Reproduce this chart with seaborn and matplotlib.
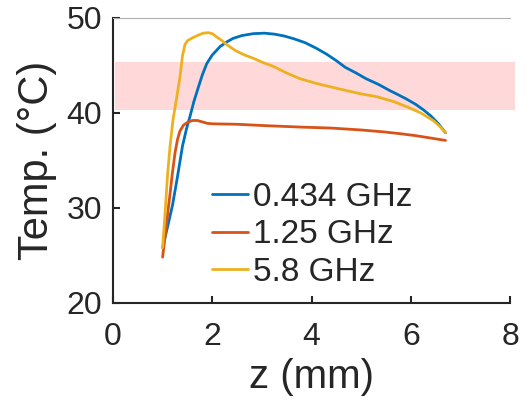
import matplotlib
matplotlib.use("Agg")
import matplotlib.pyplot as plt
import seaborn as sns
import pandas as pd

# values
z_blue = [1.0, 1.1, 1.2, 1.3, 1.4, 1.48, 1.55, 1.63, 1.72, 1.8, 1.89, 2.0, 2.16, 2.3, 2.42, 2.6, 2.83,
          3.05, 3.25, 3.45, 3.65, 3.87, 4.1, 4.3, 4.5, 4.68, 4.9, 5.1, 5.35, 5.56, 5.75, 5.9, 6.1,
          6.26, 6.4, 6.55, 6.7]
t_blue = [25.8, 28.0, 30.3, 33.3, 36.5, 38.3, 39.6, 41.2, 42.7, 44.0, 45.2, 46.1, 47.0, 47.5, 47.85,
          48.15, 48.35, 48.4, 48.3, 48.1, 47.8, 47.4, 46.8, 46.2, 45.5, 44.8, 44.2, 43.6, 43.0, 42.4,
          41.9, 41.5, 40.9, 40.3, 39.7, 38.9, 37.9]

z_red = [1.0, 1.05, 1.1, 1.15, 1.2, 1.25, 1.3, 1.35, 1.42, 1.5, 1.6, 1.7, 1.8, 1.9, 2.0, 2.5, 3.1,
         3.8, 4.4, 5.0, 5.45, 5.8, 6.1, 6.4, 6.7]
t_red = [24.8, 27.0, 29.3, 31.5, 33.8, 35.8, 37.2, 38.1, 38.7, 39.0, 39.2, 39.2, 39.05, 38.9, 38.85,
         38.8, 38.65, 38.5, 38.4, 38.2, 38.0, 37.8, 37.6, 37.35, 37.1]

z_yel = [1.0, 1.05, 1.1, 1.15, 1.21, 1.28, 1.35, 1.4, 1.45, 1.5, 1.6, 1.72, 1.82, 1.92, 2.0, 2.09,
         2.2, 2.29, 2.4, 2.49, 2.65, 2.83, 3.0, 3.23, 3.5, 3.77, 4.1, 4.58, 5.0, 5.32, 5.65, 5.92,
         6.2, 6.45, 6.6, 6.7]
t_yel = [25.8, 29.5, 33.5, 36.5, 39.3, 41.5, 43.8, 46.0, 47.2, 47.6, 47.9, 48.2, 48.4, 48.45, 48.35,
         48.0, 47.6, 47.2, 46.8, 46.5, 46.1, 45.75, 45.35, 44.9, 44.2, 43.6, 43.1, 42.5, 42.0, 41.7,
         41.2, 40.65, 40.0, 39.2, 38.5, 37.9]

labels = ["0.434 GHz", "1.25 GHz", "5.8 GHz"]
colors = ["#0072BD", "#D95319", "#EDB120"]

band_low, band_high = 40.3, 45.35
band_x = (0.05, 8.1)

frames = []
for lab, zz, tt in zip(labels, [z_blue, z_red, z_yel], [t_blue, t_red, t_yel]):
    frames.append(pd.DataFrame({"z": zz, "T": tt, "freq": lab}))
df = pd.concat(frames, ignore_index=True)

sns.set_style("white")
plt.rcParams["font.family"] = ["Liberation Sans", "DejaVu Sans"]

fig = plt.figure(figsize=(5.31, 4.05), dpi=100)
ax = fig.add_axes([0.2128, 0.2526, 0.7477, 0.703])

ax.fill_between(band_x, band_low, band_high, color="#ffd9da", lw=0, zorder=0, clip_on=False)

sns.lineplot(data=df, x="z", y="T", hue="freq", palette=colors, sort=False,
             linewidth=2.0, ax=ax, legend=True)

ax.set_xlim(0, 8)
ax.set_ylim(20, 50)
ax.set_xticks([0, 2, 4, 6, 8])
ax.set_yticks([20, 30, 40, 50])
ax.tick_params(direction="in", length=5, width=1.5, labelsize=23, colors="#262626",
               left=True, bottom=True)
ax.tick_params(axis="x", pad=14)
ax.tick_params(axis="y", pad=8)
ax.set_xlabel("z (mm)", fontsize=29, color="#262626", labelpad=4)
ax.set_ylabel("Temp. (°C)", fontsize=30, color="#262626", labelpad=7)

for s in ["left", "bottom"]:
    ax.spines[s].set_color("#262626")
    ax.spines[s].set_linewidth(1.5)
ax.spines["right"].set_visible(False)
ax.spines["top"].set_color("#b0b0b0")
ax.spines["top"].set_linewidth(0.8)

ax.legend(loc="upper left", bbox_to_anchor=(0.249, 0.425), frameon=False,
          fontsize=24, handlelength=1.08, handletextpad=0.15, labelspacing=0.2,
          borderaxespad=0, borderpad=0)

fig.savefig("out.png", dpi=100)
